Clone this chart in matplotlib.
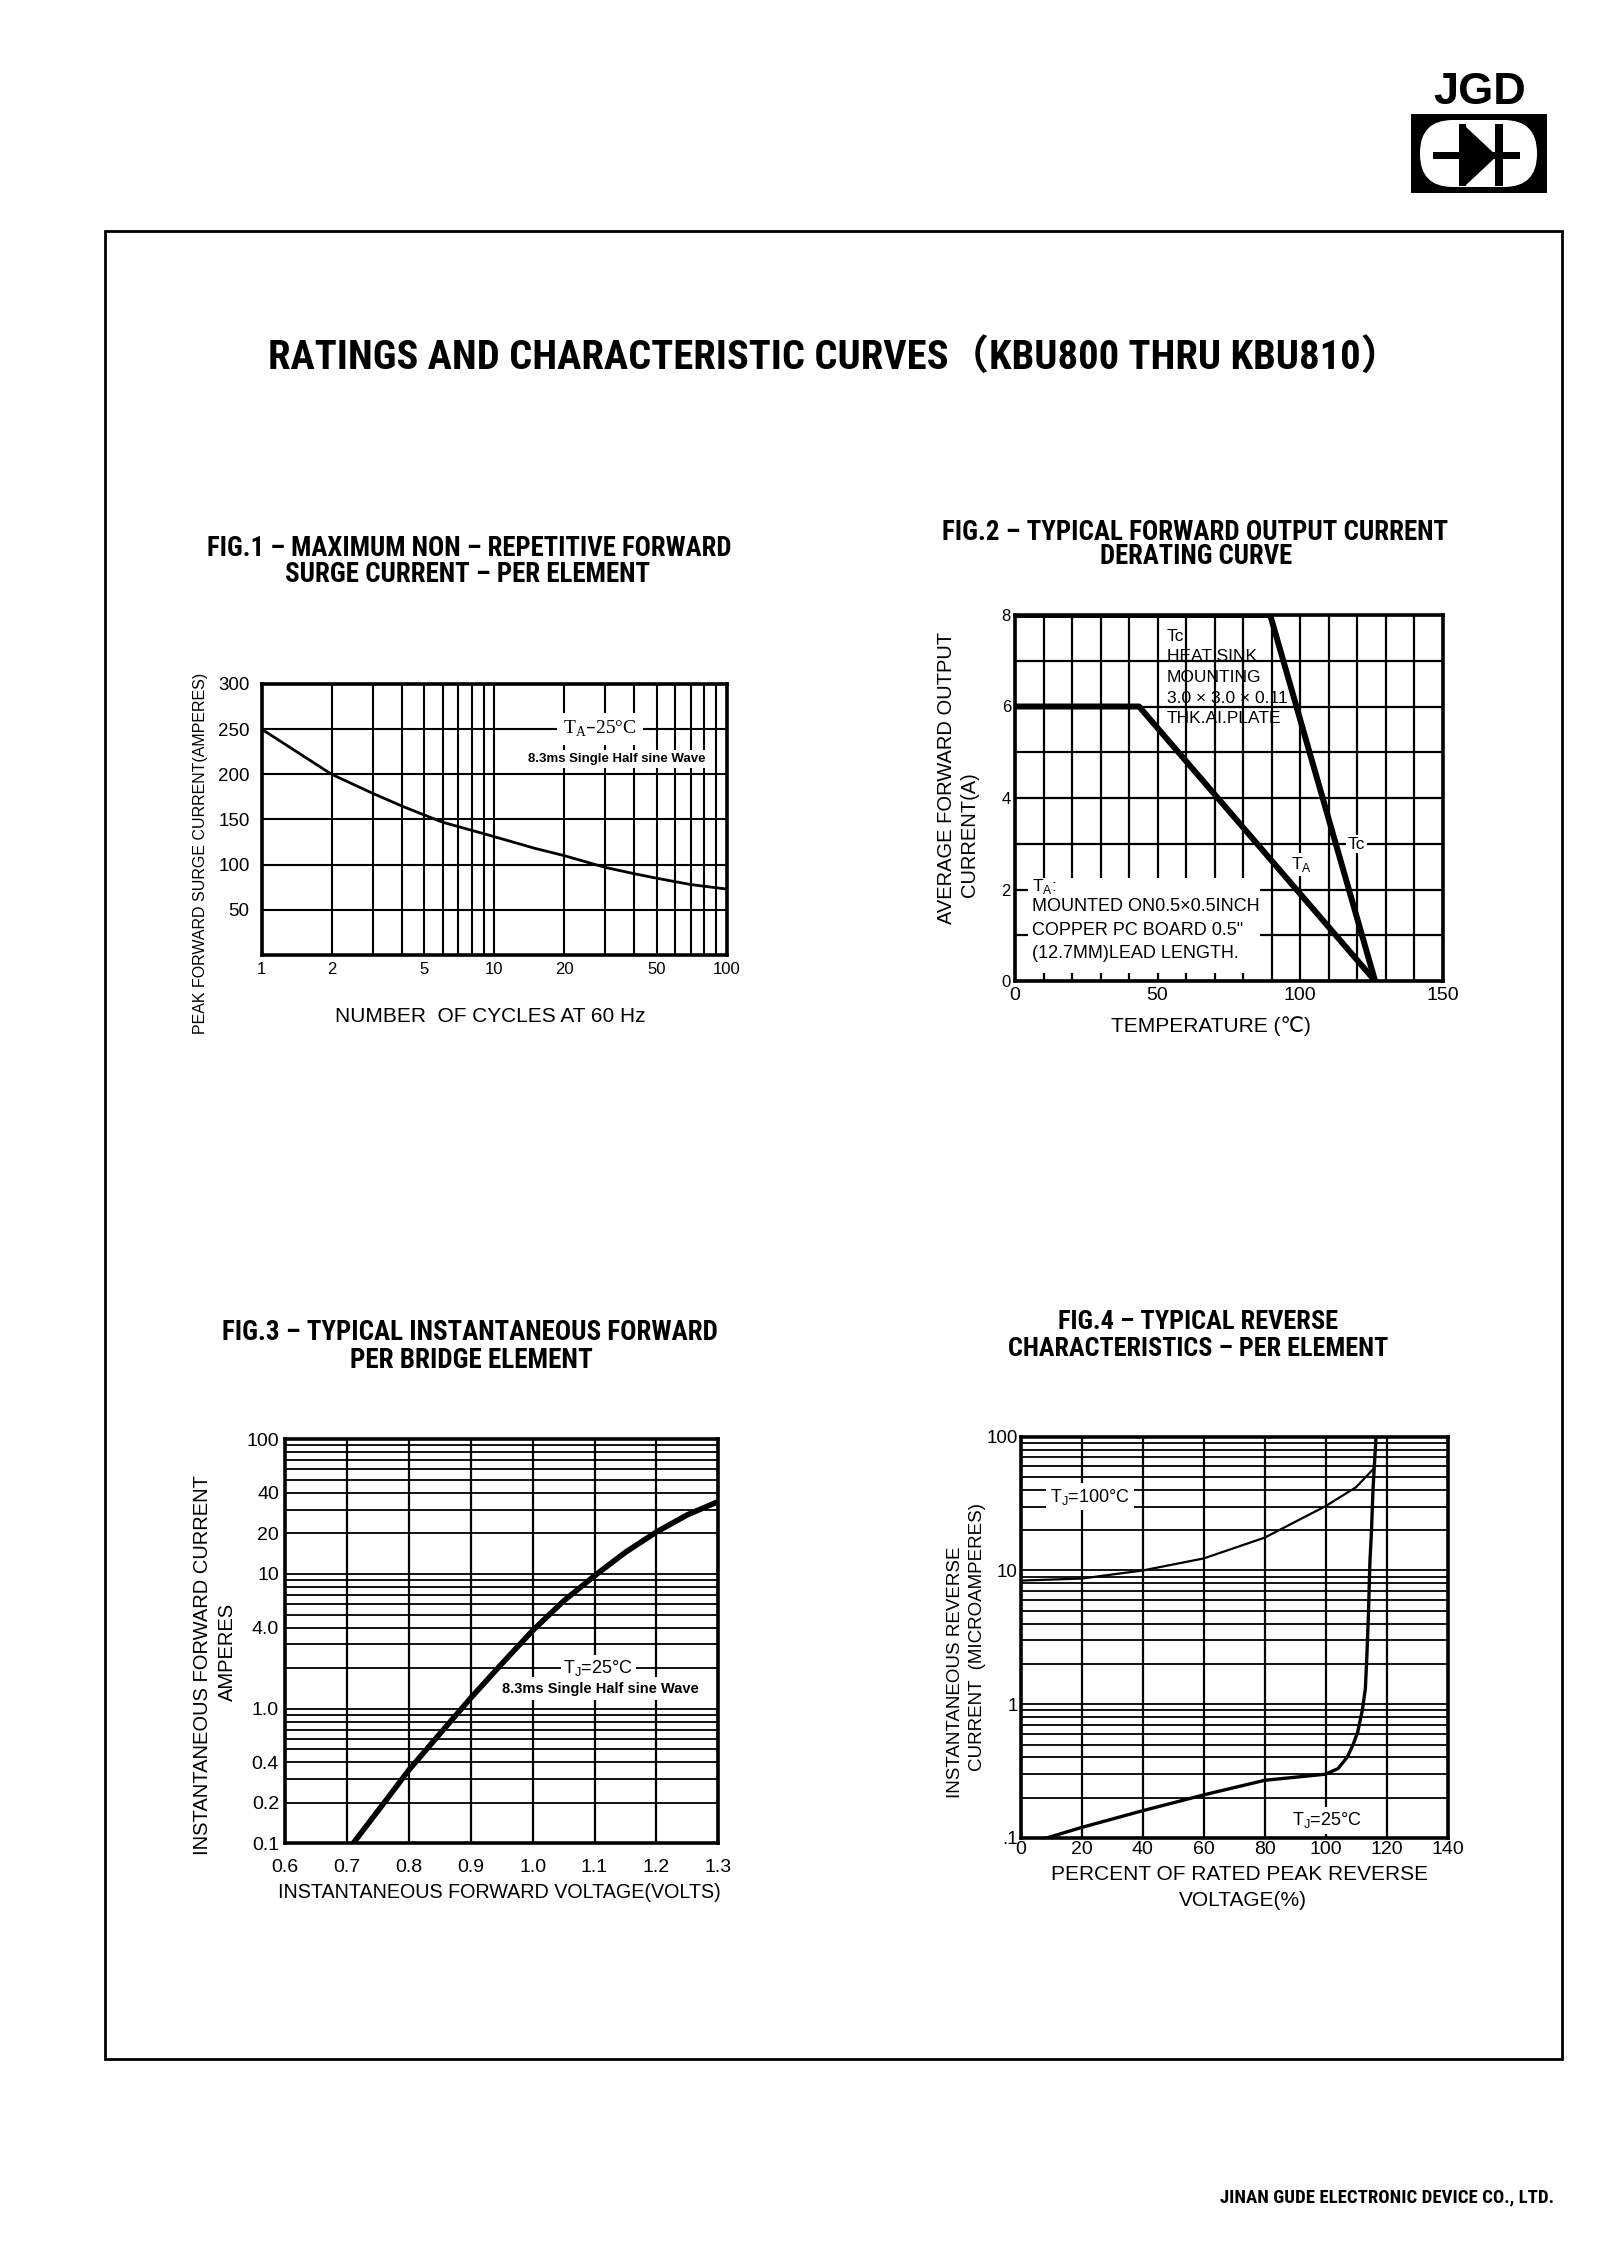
import numpy as np
import matplotlib
matplotlib.use("Agg")
import matplotlib.pyplot as plt
from matplotlib import font_manager as fm
from matplotlib.ticker import FixedLocator, FixedFormatter, NullFormatter, LogLocator, MultipleLocator
from matplotlib.patches import Rectangle, FancyBboxPatch, Polygon

W, H = 1622, 2260
DPI = 100

# ---------------- data ----------------
# Fig.1  surge current vs number of cycles
fig1_cycles = [1, 2, 3, 4, 5, 6, 8, 10, 15, 20, 30, 40, 50, 70, 100]
fig1_surge = [250, 200, 179, 165, 155, 147, 138, 131, 118, 110, 97, 90, 85, 78, 73]
fig1_xticks = [1, 2, 5, 10, 20, 50, 100]
fig1_yticks = [50, 100, 150, 200, 250, 300]

# Fig.2  derating curves
fig2_tc_temp = [0, 89.5, 126.3]
fig2_tc_amp = [8, 8, 0]
fig2_ta_temp = [0, 43.5, 126.3]
fig2_ta_amp = [6, 6, 0]
fig2_xticks = [0, 50, 100, 150]
fig2_yticks = [0, 2, 4, 6, 8]

# Fig.3  forward characteristic
fig3_volts = [0.71, 0.76, 0.80, 0.85, 0.90, 0.95, 1.00, 1.05, 1.10, 1.15, 1.20, 1.25, 1.30]
fig3_amps = [0.1, 0.2, 0.35, 0.65, 1.2, 2.15, 3.8, 6.3, 9.7, 14.5, 20.5, 27.5, 34.5]
fig3_xticks = [0.6, 0.7, 0.8, 0.9, 1.0, 1.1, 1.2, 1.3]
fig3_xticklabels = ["0.6", "0.7", "0.8", "0.9", "1.0", "1.1", "1.2", "1.3"]
fig3_yticks = [0.1, 0.2, 0.4, 1, 4, 10, 20, 40, 100]
fig3_yticklabels = ["0.1", "0.2", "0.4", "1.0", "4.0", "10", "20", "40", "100"]

# Fig.4  reverse characteristic
fig4_pct_100 = [0, 20, 40, 60, 80, 100, 110, 115.5]
fig4_ir_100 = [8.4, 8.7, 10.0, 12.3, 17.6, 30.3, 42, 57]
fig4_pct_25 = [8.5, 20, 40, 60, 80, 100, 104, 107, 109, 110.5, 112, 113, 113.5, 114, 114.5, 115, 115.5, 116.5]
fig4_ir_25 = [0.1, 0.12, 0.16, 0.21, 0.27, 0.30, 0.33, 0.40, 0.50, 0.62, 0.9, 1.3, 2.3, 4.6, 11.7, 19.4, 40, 100]
fig4_xticks = [0, 20, 40, 60, 80, 100, 120, 140]
fig4_yticks = [0.1, 1, 10, 100]
fig4_yticklabels = [".1", "1", "10", "100"]

# ---------------- fonts ----------------
plt.rcParams['font.family'] = ['Liberation Sans', 'DejaVu Sans']


def pick_condensed():
    names = {f.name for f in fm.fontManager.ttflist}
    for p in ['Liberation Sans Narrow', 'Arial Narrow', 'Roboto Condensed', 'DejaVu Sans Condensed',
              'Open Sans Condensed', 'Noto Sans Condensed', 'Nimbus Sans Narrow']:
        if p in names:
            return {'family': [p, 'Noto Sans CJK SC', 'DejaVu Sans']}
    for f in fm.fontManager.ttflist:
        if str(f.stretch) in ('condensed', 'semi-condensed', 'extra-condensed') and \
                str(f.weight) in ('bold', '700'):
            return {'family': [f.name, 'Noto Sans CJK SC', 'DejaVu Sans'], 'fontstretch': f.stretch}
    return {'family': ['Liberation Sans', 'Noto Sans CJK SC', 'DejaVu Sans']}


COND = pick_condensed()

fig = plt.figure(figsize=(W / DPI, H / DPI), dpi=DPI)
fig.patch.set_facecolor('white')
renderer = fig.canvas.get_renderer()


def fx(x):
    return x / W


def fy(y):
    return 1 - y / H


def ftext(x, y, s, **kw):
    kw.setdefault('ha', 'center')
    kw.setdefault('va', 'center')
    return fig.text(fx(x), fy(y), s, **kw)


def fit(t, target_px):
    bb = t.get_window_extent(renderer)
    if bb.width > 0:
        t.set_fontsize(t.get_fontsize() * target_px / bb.width)
    return t


def ctext(x, y, s, size, target_px, **kw):
    t = ftext(x, y, s, fontsize=size, fontweight='bold', **COND, **kw)
    return fit(t, target_px)


def px_axes(left, top, right, bottom):
    return fig.add_axes([fx(left), fy(bottom), (right - left) / W, (bottom - top) / H])


def pt(px):
    return px * 72.0 / DPI


def style(ax, spine_lw=2.6):
    for s in ax.spines.values():
        s.set_linewidth(spine_lw)
        s.set_color('black')
        s.set_zorder(5)
    ax.tick_params(which='both', length=0, colors='black')
    ax.set_axisbelow('line')


# ---------------- page frame + logo (overlay) ----------------
ov = fig.add_axes([0, 0, 1, 1])
ov.set_xlim(0, W)
ov.set_ylim(H, 0)
ov.axis('off')
ov.patch.set_facecolor('none')
ov.add_patch(Rectangle((105, 231), 1457, 1828, fill=False, ec='black', lw=2.0))
ov.add_patch(Rectangle((1411, 114), 136, 79, fc='black', ec='none'))
ov.add_patch(FancyBboxPatch((1420, 120), 117, 67, boxstyle="round,pad=0,rounding_size=33",
                            fc='white', ec='none'))
ov.add_patch(Rectangle((1433, 151.5), 87, 7, fc='black', ec='none'))
ov.add_patch(Rectangle((1459, 124), 7, 62, fc='black', ec='none'))
ov.add_patch(Polygon([(1466, 127), (1466, 185), (1497, 156)], closed=True, fc='black', ec='none'))
ov.add_patch(Rectangle((1495, 124), 8, 62, fc='black', ec='none'))

fit(ftext(1480, 93, "JGD", fontsize=32, fontweight='bold'), 93)

ctext(835, 358, "RATINGS AND CHARACTERISTIC CURVES（KBU800 THRU KBU810）", 30, 1128)
ctext(1554, 2197, "JINAN GUDE ELECTRONIC DEVICE CO., LTD.", 11, 331, ha='right')

# ---------------- Fig.1 ----------------
ctext(469, 549, "FIG.1 – MAXIMUM NON – REPETITIVE FORWARD", 19, 523)
ctext(468, 575, "SURGE CURRENT – PER ELEMENT", 19, 366)

ax1 = px_axes(261.7, 684, 726.7, 955)
style(ax1)
ax1.set_xscale('log')
ax1.set_xlim(1, 100)
ax1.set_ylim(0, 300)
ax1.xaxis.set_major_locator(FixedLocator(fig1_xticks))
ax1.xaxis.set_major_formatter(FixedFormatter([str(v) for v in fig1_xticks]))
ax1.xaxis.set_minor_locator(LogLocator(base=10, subs=np.arange(2, 10), numticks=20))
ax1.xaxis.set_minor_formatter(NullFormatter())
ax1.yaxis.set_major_locator(FixedLocator(fig1_yticks))
ax1.yaxis.set_major_formatter(FixedFormatter([str(v) for v in fig1_yticks]))
ax1.grid(which='both', axis='x', color='black', lw=1.5)
ax1.grid(which='major', axis='y', color='black', lw=1.5)
ax1.tick_params(axis='x', labelsize=12, pad=pt(7))
ax1.tick_params(axis='y', labelsize=13.5, pad=pt(12))
ax1.plot(fig1_cycles, fig1_surge, color='black', lw=2.0, zorder=3)
ax1.text(28.5, 250, r"T$_{\mathregular{A}}$–25°C", family='Liberation Serif', fontsize=14,
         ha='center', va='center', zorder=4,
         bbox=dict(boxstyle='square,pad=0.3', fc='white', ec='none'))
ax1.text(33.6, 217, "8.3ms Single Half sine Wave", fontsize=9.5, fontweight='bold',
         ha='center', va='center', zorder=4,
         bbox=dict(boxstyle='square,pad=0.25', fc='white', ec='none'))
ftext(200, 853, "PEAK FORWARD SURGE CURRENT(AMPERES)", rotation=90, fontsize=11.5)
ftext(490, 1017, "NUMBER  OF CYCLES AT 60 Hz", fontsize=15)

# ---------------- Fig.2 ----------------
ctext(1195, 533, "FIG.2 – TYPICAL FORWARD OUTPUT CURRENT", 19, 506)
ctext(1196, 557, "DERATING CURVE", 19, 192)

ax2 = px_axes(1015, 615, 1442.7, 981)
style(ax2)
ax2.set_xlim(0, 150)
ax2.set_ylim(0, 8)
ax2.xaxis.set_major_locator(FixedLocator(fig2_xticks))
ax2.xaxis.set_major_formatter(FixedFormatter([str(v) for v in fig2_xticks]))
ax2.xaxis.set_minor_locator(MultipleLocator(10))
ax2.yaxis.set_major_locator(FixedLocator(fig2_yticks))
ax2.yaxis.set_major_formatter(FixedFormatter([str(v) for v in fig2_yticks]))
ax2.yaxis.set_minor_locator(MultipleLocator(1))
ax2.grid(which='both', color='black', lw=1.6)
ax2.tick_params(axis='x', labelsize=14, pad=pt(6))
ax2.tick_params(axis='y', labelsize=12, pad=pt(4))
ax2.add_patch(Rectangle((4.5, 0.17), 81.5, 2.08, fc='white', ec='none', zorder=1.7))
ax2.plot(fig2_tc_temp, fig2_tc_amp, color='black', lw=4.3, zorder=3, solid_capstyle='butt')
ax2.plot(fig2_ta_temp, fig2_ta_amp, color='black', lw=4.3, zorder=3, solid_capstyle='butt')
for yy, s in zip([7.53, 7.10, 6.64, 6.18, 5.74],
                 ["Tc:", "HEAT SINK", "MOUNTING", "3.0 × 3.0 × 0.11", "THK.AI.PLATE"]):
    ax2.text(53.2, yy, s, fontsize=12.5, ha='left', va='center', zorder=4)
ax2.text(119.8, 2.99, "Tc", fontsize=12.5, ha='center', va='center', zorder=4,
         bbox=dict(boxstyle='square,pad=0.1', fc='white', ec='none'))
ax2.text(100.5, 2.55, r"T$_{\mathregular{A}}$", fontsize=12.5, ha='center', va='center', zorder=4,
         bbox=dict(boxstyle='square,pad=0.1', fc='white', ec='none'))
ax2.text(6.1, 2.06, r"T$_{\mathregular{A}}$:", fontsize=12.5, ha='left', va='center', zorder=4)
for yy, s in zip([1.62, 1.11, 0.60],
                 ["MOUNTED ON0.5×0.5INCH", "COPPER PC BOARD 0.5\"", "(12.7MM)LEAD LENGTH."]):
    ax2.text(6.1, yy, s, fontsize=13, ha='left', va='center', zorder=4)
ftext(947, 778, "AVERAGE FORWARD OUTPUT", rotation=90, fontsize=14.5)
ftext(970, 835, "CURRENT(A)", rotation=90, fontsize=14.5)
ftext(1211, 1026, "TEMPERATURE (℃)", fontsize=15)

# ---------------- Fig.3 ----------------
ctext(470, 1333, "FIG.3 – TYPICAL INSTANTANEOUS FORWARD", 19, 496)
ctext(471, 1360, "PER BRIDGE ELEMENT", 19, 243)

ax3 = px_axes(285, 1439.3, 718.3, 1843.4)
style(ax3)
ax3.set_yscale('log')
ax3.set_xlim(0.6, 1.3)
ax3.set_ylim(0.1, 100)
ax3.xaxis.set_major_locator(FixedLocator(fig3_xticks))
ax3.xaxis.set_major_formatter(FixedFormatter(fig3_xticklabels))
ax3.yaxis.set_major_locator(FixedLocator(fig3_yticks))
ax3.yaxis.set_major_formatter(FixedFormatter(fig3_yticklabels))
ax3.yaxis.set_minor_locator(LogLocator(base=10, subs=np.arange(1, 10), numticks=20))
ax3.yaxis.set_minor_formatter(NullFormatter())
ax3.grid(which='major', axis='x', color='black', lw=1.6)
ax3.grid(which='both', axis='y', color='black', lw=1.3)
ax3.tick_params(axis='x', labelsize=14, pad=pt(16))
ax3.tick_params(axis='y', labelsize=14, pad=pt(6))
ax3.plot(fig3_volts, fig3_amps, color='black', lw=4.0, zorder=3)
ax3.text(1.106, 2.0, r"T$_{\mathregular{J}}$=25°C", fontsize=13, ha='center', va='center', zorder=4,
         bbox=dict(boxstyle='square,pad=0.15', fc='white', ec='none'))
ax3.text(1.11, 1.41, "8.3ms Single Half sine Wave", fontsize=10.5, fontweight='bold',
         ha='center', va='center', zorder=4,
         bbox=dict(boxstyle='square,pad=0.3', fc='white', ec='none'))
ftext(202, 1665, "INSTANTANEOUS FORWARD CURRENT", rotation=90, fontsize=14.5)
ftext(227, 1652, "AMPERES", rotation=90, fontsize=14.5)
ftext(499, 1893, "INSTANTANEOUS FORWARD VOLTAGE(VOLTS)", fontsize=14.2)

# ---------------- Fig.4 ----------------
ctext(1198, 1322, "FIG.4 – TYPICAL REVERSE", 19, 280)
ctext(1198, 1349, "CHARACTERISTICS – PER ELEMENT", 19, 378)

ax4 = px_axes(1020.7, 1436.7, 1447.7, 1838)
style(ax4)
ax4.set_yscale('log')
ax4.set_xlim(0, 140)
ax4.set_ylim(0.1, 100)
ax4.xaxis.set_major_locator(FixedLocator(fig4_xticks))
ax4.xaxis.set_major_formatter(FixedFormatter([str(v) for v in fig4_xticks]))
ax4.yaxis.set_major_locator(FixedLocator(fig4_yticks))
ax4.yaxis.set_major_formatter(FixedFormatter(fig4_yticklabels))
ax4.yaxis.set_minor_locator(LogLocator(base=10, subs=np.arange(1, 10), numticks=20))
ax4.yaxis.set_minor_formatter(NullFormatter())
ax4.grid(which='major', axis='x', color='black', lw=1.6)
ax4.grid(which='both', axis='y', color='black', lw=1.3)
ax4.tick_params(axis='x', labelsize=14, pad=pt(3))
ax4.tick_params(axis='y', labelsize=13.5, pad=pt(3))
ax4.plot(fig4_pct_100, fig4_ir_100, color='black', lw=1.6, zorder=3)
ax4.plot(fig4_pct_25, fig4_ir_25, color='black', lw=2.4, zorder=3)
ax4.text(22.7, 35.6, r"T$_{\mathregular{J}}$=100°C", fontsize=13, ha='center', va='center', zorder=4,
         bbox=dict(boxstyle='square,pad=0.2', fc='white', ec='none'))
ax4.text(100.4, 0.136, r"T$_{\mathregular{J}}$=25°C", fontsize=13, ha='center', va='center', zorder=4,
         bbox=dict(boxstyle='square,pad=0.2', fc='white', ec='none'))
ftext(955, 1672, "INSTANTANEOUS REVERSE", rotation=90, fontsize=13.5)
ftext(977, 1637, "CURRENT  (MICROAMPERES)", rotation=90, fontsize=13.5)
ftext(1240, 1875, "PERCENT OF RATED PEAK REVERSE", fontsize=15)
ftext(1243, 1901, "VOLTAGE(%)", fontsize=15)

fig.savefig("out.png", dpi=DPI, facecolor='white')
